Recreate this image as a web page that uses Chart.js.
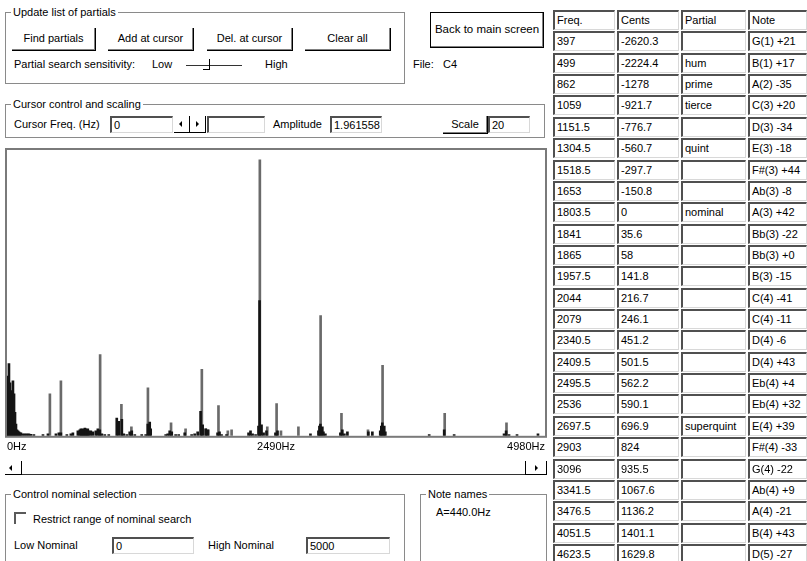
<!DOCTYPE html>
<html>
<head>
<meta charset="utf-8">
<script src="https://cdn.jsdelivr.net/npm/chart.js@4.4.0/dist/chart.umd.min.js"></script>
<style>
body{margin:0;width:807px;height:561px;background:#fff;font:11px "Liberation Sans",Arial,sans-serif;color:#000;position:relative;overflow:hidden}
.a{position:absolute;white-space:nowrap;line-height:13px}
.grp{position:absolute;border:1px solid #8a8a8a;box-sizing:border-box}
.grp>span{position:absolute;top:-8px;left:5px;background:#fff;padding:0 2px;line-height:14px}
.btn{position:absolute;box-sizing:border-box;border-right:1px solid #000;border-bottom:1px solid #000;box-shadow:inset -1px -1px 0 #808080;text-align:center;line-height:20px}
.edit{position:absolute;box-sizing:border-box;border-top:2px solid #505050;border-left:2px solid #505050;border-right:1px solid #d8d8d8;border-bottom:1px solid #d8d8d8;padding-left:2px;line-height:14px;overflow:hidden;white-space:nowrap}
.tri-l,.tri-r{position:absolute;width:0;height:0;border-top:3px solid transparent;border-bottom:3px solid transparent}
.tri-l{border-right:3px solid #000}
.tri-r{border-left:3px solid #000}
#plot{position:absolute;left:0;top:144px}
</style>
</head>
<body>

<div class="grp" style="left:5px;top:12px;width:400px;height:72px"><span>Update list of partials</span></div>
<div class="btn" style="left:12px;top:28px;width:84px;height:23px">Find partials</div>
<div class="btn" style="left:108px;top:28px;width:86px;height:23px">Add at cursor</div>
<div class="btn" style="left:207px;top:28px;width:86px;height:23px">Del. at cursor</div>
<div class="btn" style="left:305px;top:28px;width:86px;height:23px">Clear all</div>
<div class="a" style="left:14px;top:58px">Partial search sensitivity:</div>
<div class="a" style="left:152px;top:58px">Low</div>
<div style="position:absolute;left:186px;top:65px;width:56px;height:1px;background:#333"></div>
<div style="position:absolute;left:203px;top:59px;width:6px;height:10px;border-right:1px solid #000;border-bottom:1px solid #000"></div>
<div class="a" style="left:265px;top:58px">High</div>
<div class="btn" style="left:430px;top:12px;width:114px;height:36px;border:1px solid #000;box-shadow:inset -1px -1px 0 #808080;line-height:33px;font-size:11.5px">Back to main screen</div>
<div class="a" style="left:413px;top:58px">File:&nbsp;&nbsp; C4</div>

<div class="grp" style="left:5px;top:104px;width:540px;height:34px"><span>Cursor control and scaling</span></div>
<div class="a" style="left:14px;top:118px">Cursor Freq. (Hz)</div>
<div class="edit" style="left:110px;top:116px;width:63px;height:17px">0</div>
<div style="position:absolute;left:174px;top:116px;width:16px;height:17px;border-right:1px solid #000;border-bottom:1px solid #000;box-sizing:border-box"></div>
<div class="tri-l" style="left:179px;top:121px"></div>
<div style="position:absolute;left:190px;top:116px;width:16px;height:17px;border-right:1px solid #000;border-bottom:1px solid #000;box-sizing:border-box"></div>
<div class="tri-r" style="left:196px;top:121px"></div>
<div class="edit" style="left:207px;top:116px;width:58px;height:17px"></div>
<div class="a" style="left:273px;top:118px">Amplitude</div>
<div class="edit" style="left:330px;top:116px;width:52px;height:17px">1.961558</div>
<div class="btn" style="left:443px;top:116px;width:45px;height:18px;line-height:17px">Scale</div>
<div class="edit" style="left:488px;top:116px;width:42px;height:17px">20</div>

<canvas id="plot" width="552" height="318"></canvas>

<div style="position:absolute;left:5px;top:461px;width:17px;height:14px;border-right:1px solid #000;border-bottom:1px solid #000;box-sizing:border-box"></div>
<div class="tri-l" style="left:9px;top:465px"></div>
<div style="position:absolute;left:22px;top:474px;width:503px;height:1px;background:#333"></div>
<div style="position:absolute;left:525px;top:461px;width:22px;height:14px;border-left:1px solid #000;border-right:1px solid #000;border-bottom:1px solid #000;box-sizing:border-box"></div>
<div class="tri-r" style="left:535px;top:465px"></div>

<div class="grp" style="left:5px;top:494px;width:400px;height:90px"><span>Control nominal selection</span></div>
<div style="position:absolute;left:14px;top:512px;width:12px;height:12px;border-top:2px solid #5a5a5a;border-left:2px solid #5a5a5a;box-sizing:border-box"></div>
<div class="a" style="left:33px;top:513px">Restrict range of nominal search</div>
<div class="a" style="left:14px;top:539px">Low Nominal</div>
<div class="edit" style="left:112px;top:537px;width:82px;height:17px">0</div>
<div class="a" style="left:208px;top:539px">High Nominal</div>
<div class="edit" style="left:306px;top:537px;width:84px;height:17px">5000</div>
<div class="grp" style="left:420px;top:494px;width:127px;height:90px"><span>Note names</span></div>
<div class="a" style="left:436px;top:506px">A=440.0Hz</div>

<div id="table"></div>

<script>
// table of found partials
const partialFreqs = [397, 499, 862, 1059, 1151.5, 1304.5, 1518.5, 1653, 1803.5, 1841, 1865, 1957.5, 2044, 2079, 2340.5, 2409.5, 2495.5, 2536, 2697.5, 2903, 3096, 3341.5, 3476.5, 4051.5, 4623.5];
const partialCents = ['-2620.3', '-2224.4', '-1278', '-921.7', '-776.7', '-560.7', '-297.7', '-150.8', '0', '35.6', '58', '141.8', '216.7', '246.1', '451.2', '501.5', '562.2', '590.1', '696.9', '824', '935.5', '1067.6', '1136.2', '1401.1', '1629.8'];
const partialNames = ['', 'hum', 'prime', 'tierce', '', 'quint', '', '', 'nominal', '', '', '', '', '', '', '', '', '', 'superquint', '', '', '', '', '', ''];
const partialNotes = ['G(1) +21', 'B(1) +17', 'A(2) -35', 'C(3) +20', 'D(3) -34', 'E(3) -18', 'F#(3) +44', 'Ab(3) -8', 'A(3) +42', 'Bb(3) -22', 'Bb(3) +0', 'B(3) -15', 'C(4) -41', 'C(4) -11', 'D(4) -6', 'D(4) +43', 'Eb(4) +4', 'Eb(4) +32', 'E(4) +39', 'F#(4) -33', 'G(4) -22', 'Ab(4) +9', 'A(4) -21', 'B(4) +43', 'D(5) -27'];
const tableHeaders = ['Freq.', 'Cents', 'Partial', 'Note'];

// spectrum peak heights at each partial (percent of full scale)
const peakAmps = [14.7, 19.2, 28.4, 11.0, 3.1, 16.8, 4.5, 2.4, 23.3, 2.4, 2.1, 10.6, 1.7, 2.1, 96.6, 3.1, 11.3, 1.7, 3.1, 42.1, 7.9, 2.1, 24.7, 7.9, 4.5];

// rest of the spectrum (dark bins)
const bodyFreqs = [0, 9, 18, 28, 37, 46, 55, 65, 74, 83, 92, 102, 111, 120, 129, 148, 166, 185, 203, 222, 249, 333, 379, 453, 480, 499, 554, 591, 610, 656, 674, 684, 693, 702, 711, 721, 730, 739, 748, 758, 776, 795, 822, 841, 859, 878, 905, 942, 1016, 1035, 1063, 1081, 1109, 1136, 1155, 1183, 1247, 1284, 1303, 1321, 1330, 1469, 1488, 1506, 1525, 1561, 1589, 1645, 1709, 1737, 1765, 1792, 1811, 1839, 1857, 1949, 1967, 1986, 2032, 2236, 2254, 2273, 2301, 2328, 2338, 2356, 2375, 2402, 2485, 2504, 2809, 2883, 2892, 2901, 2919, 2929, 2947, 3086, 3104, 3123, 3151, 3345, 3382, 3455, 3465, 3474, 3492, 3502, 3908, 4047, 4139, 4601, 4620, 4647, 4721, 4915];
const bodyAmps = [11.6, 20.9, 25.3, 18.5, 15.1, 15.8, 19.2, 14.7, 8.2, 4.1, 2.1, 1.7, 1.4, 1.0, 1.0, 0.7, 0.7, 0.7, 0.7, 0.5, 0.4, 0.4, 0.7, 0.7, 1.0, 1.0, 0.4, 0.7, 1.0, 1.7, 2.1, 2.4, 2.1, 2.4, 2.1, 2.7, 2.4, 2.1, 2.4, 1.7, 1.7, 1.4, 1.7, 2.4, 2.1, 0.7, 0.4, 0.4, 6.2, 5.1, 5.8, 0.7, 0.4, 1.4, 1.7, 0.4, 0.4, 0.4, 4.1, 4.8, 2.4, 0.4, 0.7, 1.7, 1.4, 0.4, 0.4, 1.0, 0.4, 0.7, 1.4, 8.6, 3.8, 2.4, 2.1, 1.0, 1.4, 0.4, 0.4, 1.0, 1.7, 0.7, 0.4, 3.4, 47.3, 3.8, 1.0, 1.7, 1.0, 1.7, 0.7, 1.7, 3.4, 4.1, 3.1, 1.4, 0.7, 1.0, 2.1, 0.7, 1.4, 1.4, 1.4, 1.7, 3.4, 4.5, 3.4, 1.4, 0.4, 2.1, 0.4, 0.7, 1.7, 0.4, 0.4, 0.7];

const freqTicks = [0, 2490, 4980];

// build the partials table
const colLeft = [553, 617, 681, 748];
const colWidth = [62, 62, 65, 59];
const tbl = document.getElementById('table');
function cell(i, c, txt) {
  const d = document.createElement('div');
  d.className = 'edit';
  d.style.left = colLeft[c] + 'px';
  d.style.top = Math.round(10 + 21.36 * i) + 'px';
  d.style.width = colWidth[c] + 'px';
  d.style.height = '20px';
  d.style.lineHeight = '17px';
  d.textContent = txt;
  tbl.appendChild(d);
}
tableHeaders.forEach((h, c) => cell(0, c, h));
partialFreqs.forEach((f, i) => {
  cell(i + 1, 0, String(f));
  cell(i + 1, 1, partialCents[i]);
  cell(i + 1, 2, partialNames[i]);
  cell(i + 1, 3, partialNotes[i]);
});

const frame = {
  id: 'frame',
  afterDraw(chart) {
    const {ctx, chartArea: a} = chart;
    ctx.save();
    ctx.strokeStyle = '#7a7a7a';
    ctx.lineWidth = 2;
    ctx.strokeRect(a.left - 1, a.top - 1, a.right - a.left + 2, a.bottom - a.top + 2);
    ctx.restore();
  }
};

new Chart(document.getElementById('plot'), {
  type: 'bar',
  data: {
    datasets: [
      {
        data: bodyFreqs.map((f, i) => ({x: f, y: bodyAmps[i]})),
        backgroundColor: '#141414',
        barThickness: 2,
        grouped: false,
        order: 1
      },
      {
        data: partialFreqs.map((f, i) => ({x: f, y: peakAmps[i]})),
        backgroundColor: '#6a6a6a',
        barThickness: 2,
        grouped: false,
        order: 2
      }
    ]
  },
  options: {
    responsive: false,
    animation: false,
    layout: {padding: {left: 7, right: 7, top: 6, bottom: 3}},
    plugins: {legend: {display: false}, tooltip: {enabled: false}},
    scales: {
      x: {
        type: 'linear',
        min: freqTicks[0],
        max: freqTicks[freqTicks.length - 1],
        offset: false,
        grid: {display: false, drawTicks: false},
        border: {display: false},
        afterBuildTicks: s => { s.ticks = freqTicks.map(v => ({value: v})); },
        ticks: {
          align: 'inner',
          maxRotation: 0,
          autoSkip: false,
          padding: 5,
          color: '#000',
          font: {size: 11, family: '"Liberation Sans", Arial, sans-serif'},
          callback: v => v + 'Hz'
        }
      },
      y: {display: false, min: 0, max: 100}
    }
  },
  plugins: [frame]
});
</script>
</body>
</html>
